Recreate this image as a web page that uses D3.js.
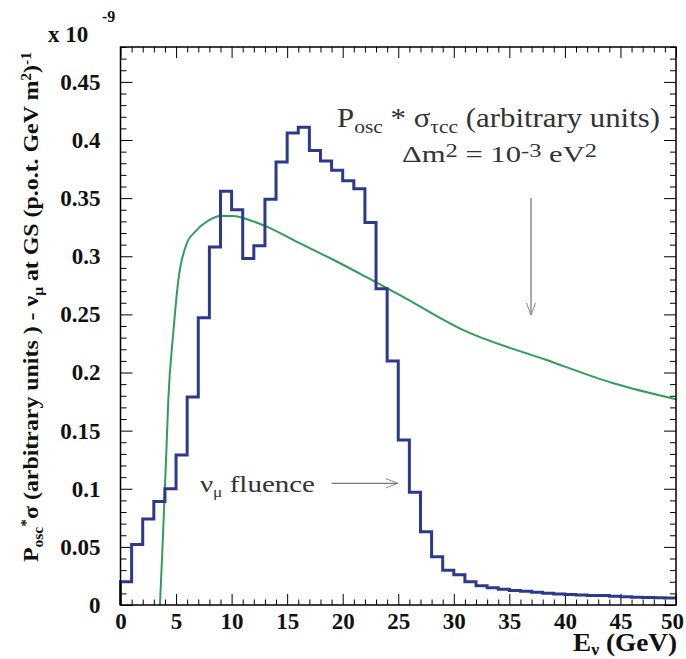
<!DOCTYPE html>
<html>
<head>
<meta charset="utf-8">
<script src="https://cdn.jsdelivr.net/npm/d3@7/dist/d3.min.js"></script>
<style>
  html, body { margin: 0; padding: 0; background: #fff; }
  svg { display: block; }
</style>
</head>
<body>
<svg id="chart" width="686" height="659"></svg>
<script>
// nu_mu fluence at Gran Sasso, 1 GeV bins 0..50 GeV (x 1e-9)
const binLow = d3.range(0, 50);
const fluence = [
  0.020, 0.052, 0.074, 0.089, 0.100, 0.129, 0.179, 0.247, 0.308, 0.356,
  0.340, 0.298, 0.309, 0.349, 0.381, 0.406, 0.411, 0.391, 0.382, 0.374,
  0.365, 0.358, 0.329, 0.272, 0.210, 0.142, 0.097, 0.063, 0.0415, 0.030,
  0.026, 0.020, 0.0166, 0.0149, 0.0135, 0.0125, 0.0118, 0.011, 0.0102, 0.0095,
  0.009, 0.0085, 0.0082, 0.0082, 0.0076, 0.007, 0.0066, 0.0064, 0.0062, 0.006
];

// P_osc * sigma_tau CC curve (arbitrary units)
const oscE = [3.55, 3.77, 3.95, 4.13, 4.3, 4.75, 5.2, 5.96, 6.7, 7.9, 8.96,
  10.15, 11.66, 13.16, 16.16, 19.15, 22.15, 25.15, 30.86, 38.36, 44.36, 50];
const oscV = [0, 0.047, 0.090, 0.133, 0.176, 0.234, 0.279, 0.311, 0.321, 0.3306, 0.3346,
  0.3347, 0.331, 0.3255, 0.311, 0.297, 0.282, 0.2666, 0.2365, 0.2107, 0.1907, 0.177];

const xTicks = [0, 5, 10, 15, 20, 25, 30, 35, 40, 45, 50];
const xTickLabels = ["0", "5", "10", "15", "20", "25", "30", "35", "40", "45", "50"];
const yTicks = [0, 0.05, 0.1, 0.15, 0.2, 0.25, 0.3, 0.35, 0.4, 0.45];
const yTickLabels = ["0", "0.05", "0.1", "0.15", "0.2", "0.25", "0.3", "0.35", "0.4", "0.45"];

const SERIF = '"Liberation Serif"';
const BLUE = "#2b3a8c", GREEN = "#2f9e5a";

const svg = d3.select("#chart");
const x = d3.scaleLinear([0, 50], [120.5, 676]);
const y = d3.scaleLinear([0, 0.48], [605, 47]);

const xMinor = d3.range(0, 51).filter(v => v % 5);
const yMinor = d3.range(0, 49).map(v => v / 100).filter((v, i) => i % 5);

/* --- axes: ticks on all four sides, pointing inward ---------------------- */
function ticks(axis, tf) {
  const g = svg.append("g").attr("transform", tf).call(axis);
  g.select(".domain").remove();
  g.selectAll(".tick line").attr("stroke", "#000");
  g.selectAll(".tick text")
    .style("font-family", SERIF).style("font-weight", "bold")
    .style("font-size", "23px").attr("fill", "#111");
  return g;
}
const xAxis = ticks(d3.axisBottom(x).tickValues(xTicks).tickSize(-11).tickPadding(8)
  .tickFormat((d, i) => xTickLabels[i]), "translate(0,605)");
xAxis.selectAll(".tick text").filter(d => d === 50).attr("dx", -4);
ticks(d3.axisBottom(x).tickValues(xMinor).tickSize(-5.5).tickFormat(""), "translate(0,605)");
ticks(d3.axisTop(x).tickValues(xTicks).tickSize(-11).tickFormat(""), "translate(0,47)");
ticks(d3.axisTop(x).tickValues(xMinor).tickSize(-5.5).tickFormat(""), "translate(0,47)");

ticks(d3.axisLeft(y).tickValues(yTicks).tickSize(-12).tickPadding(20)
  .tickFormat((d, i) => yTickLabels[i]), "translate(120.5,0)");
ticks(d3.axisLeft(y).tickValues(yMinor).tickSize(-6).tickFormat(""), "translate(120.5,0)");
ticks(d3.axisRight(y).tickValues(yTicks).tickSize(-12).tickFormat(""), "translate(676,0)");
ticks(d3.axisRight(y).tickValues(yMinor).tickSize(-6).tickFormat(""), "translate(676,0)");

/* --- data ---------------------------------------------------------------- */
svg.append("path")
  .datum(oscE.map((e, i) => [e, oscV[i]]))
  .attr("fill", "none").attr("stroke", GREEN).attr("stroke-width", 2)
  .attr("d", d3.line().x(d => x(d[0])).y(d => y(d[1])).curve(d3.curveMonotoneX));

const steps = [[0, 0]].concat(binLow.map((b, i) => [b, fluence[i]]), [[50, fluence[49]]]);
svg.append("path")
  .datum(steps)
  .attr("fill", "none").attr("stroke", BLUE).attr("stroke-width", 3)
  .attr("d", d3.line().x(d => x(d[0])).y(d => y(d[1])).curve(d3.curveStepAfter));

svg.append("rect")
  .attr("x", x(0)).attr("y", y(0.48))
  .attr("width", x(50) - x(0)).attr("height", y(0) - y(0.48))
  .attr("fill", "none").attr("stroke", "#000").attr("stroke-width", 1.5);

/* --- text with sub/superscripts ------------------------------------------ */
function rich(parts, o) {
  const t = svg.append("text")
    .style("font-family", SERIF)
    .style("font-weight", o.bold ? "bold" : "normal")
    .attr("font-size", o.size)
    .attr("fill", o.fill || "#111")
    .attr("transform", o.transform)
    .style("white-space", "pre");
  if (o.len) t.attr("textLength", o.len).attr("lengthAdjust", "spacingAndGlyphs");
  let shift = 0;
  parts.forEach(([s, kind]) => {
    const target = kind === "sub" ? o.size * (o.down || 0.22) : kind === "sup" ? -o.size * (o.up || 0.32) : 0;
    t.append("tspan")
      .attr("dy", target - shift)
      .attr("font-size", kind ? o.size * (o.small || 0.65) : o.size)
      .text(s);
    shift = target;
  });
  return t;
}

// scale exponent
rich([["x 10"]], { size: 23, bold: true, transform: "translate(48,42)" });
rich([["-9"]], { size: 16, bold: true, transform: "translate(102,22)" });

// y title
rich([["P"], ["osc", "sub"], ["*", "sup"], ["σ (arbitrary units ) - ν"], ["μ", "sub"],
      [" at GS (p.o.t. GeV m"], ["2", "sup"], [")"], ["-1", "sup"]],
  { size: 22, bold: true, len: 510, transform: "translate(38,562) rotate(-90)" });

// x title
rich([["E"], ["ν", "sub"], [" (GeV)"]],
  { size: 25, bold: true, len: 104, down: 0.16, transform: "translate(573,651)" });

// annotations
rich([["P"], ["osc", "sub"], [" * σ"], ["τcc", "sub"], [" (arbitrary units)"]],
  { size: 27, fill: "#333", len: 323, small: 0.7, transform: "translate(337,127)" });
rich([["Δm"], ["2", "sup"], [" = 10"], ["-3", "sup"], [" eV"], ["2", "sup"]],
  { size: 24, fill: "#333", len: 195, small: 0.8, up: 0.22, transform: "translate(402,162)" });
rich([["ν"], ["μ", "sub"], [" fluence"]],
  { size: 24, fill: "#333", len: 115, small: 0.6, transform: "translate(200,492)" });

function arrow(x1, y1, x2, y2) {
  const g = svg.append("g").attr("stroke", "#555").attr("stroke-width", 1).attr("fill", "none");
  g.append("line").attr("x1", x1).attr("y1", y1).attr("x2", x2).attr("y2", y2);
  const a = Math.atan2(y2 - y1, x2 - x1), L = 13, W = 0.36;
  g.append("polyline").attr("stroke", "#888").attr("points", [
    [x2 - L * Math.cos(a - W), y2 - L * Math.sin(a - W)],
    [x2, y2],
    [x2 - L * Math.cos(a + W), y2 - L * Math.sin(a + W)]
  ].map(p => p.join(",")).join(" "));
}
arrow(331.7, 483.3, 398, 483.3);
arrow(531, 198, 531, 315);
</script>
</body>
</html>
